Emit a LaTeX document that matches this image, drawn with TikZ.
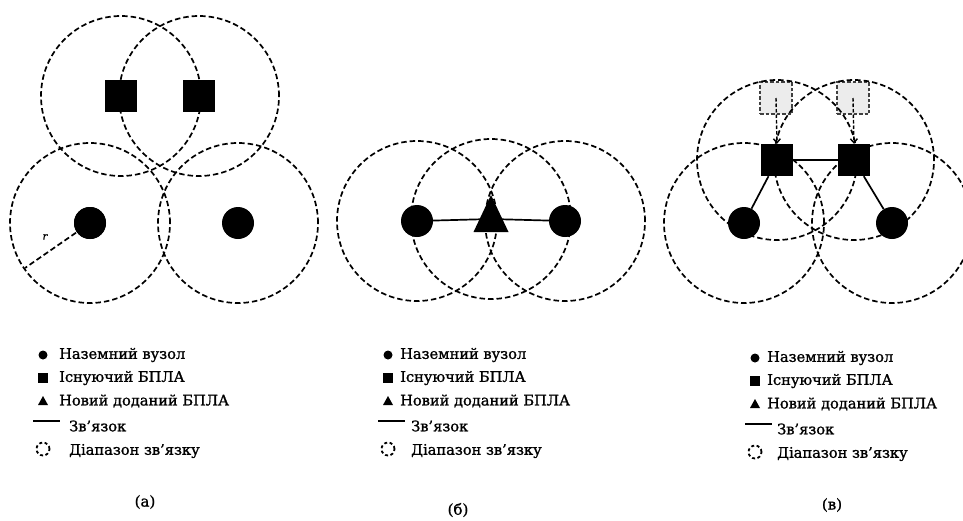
\documentclass[tikz,border=0pt]{standalone}
\usepackage{fontspec}
\setmainfont{DejaVu Serif}[FakeBold=1.2]
\usetikzlibrary{arrows.meta}
\begin{document}
\begin{tikzpicture}[x=1pt,y=-1pt,
  reach/.style={draw, dash pattern=on 5.5pt off 3pt, line width=1.7pt},
  ground/.style={circle, fill=black, minimum size=32pt, inner sep=0pt},
  uav/.style={rectangle, fill=black, minimum size=32pt, inner sep=0pt},
  ghost/.style={rectangle, fill=gray!15, draw=gray!50!black, dash pattern=on 3.5pt off 2pt, line width=1.3pt, minimum size=32pt, inner sep=0pt},
  link/.style={draw, line width=1.7pt},
  move/.style={draw, dash pattern=on 3.5pt off 2pt, line width=1.4pt, -{Straight Barb[length=4pt,width=7pt]}},
  legdot/.style={circle, fill=black, minimum size=9pt, inner sep=0pt},
  legsq/.style={rectangle, fill=black, minimum size=9.5pt, inner sep=0pt},
  legreach/.style={draw, dash pattern=on 3pt off 2.5pt, line width=1.8pt},
  legtext/.style={anchor=west, inner sep=0pt, font=\fontsize{14.6}{16}\selectfont},
  caption/.style={inner sep=0pt, font=\fontsize{15}{17}\selectfont}]
\useasboundingbox (0,0) rectangle (963,520);

% ---------- (а) ----------
\node[uav] (a1) at (121,96) {};
\node[uav] (a2) at (199,96) {};
\node[ground] (ag1) at (90,223) {};
\node[ground] (ag2) at (238,223) {};
\foreach \n in {a1,a2,ag1,ag2} \draw[reach] (\n.center) circle[radius=80pt];
\coordinate (arim) at (25,268);
\draw[reach] (ag1.center) -- (arim);
\node[inner sep=0pt, font=\fontsize{10}{12}\selectfont\itshape] (rlab) at (45,237) {r};
\node[uav] at (a1) {};
\node[uav] at (a2) {};
\node[ground] at (ag1) {};

% ---------- (б) ----------
\node[ground] (bg1) at (417,221) {};
\node[ground] (bg2) at (565,221) {};
\coordinate (bt) at (491,219);
\foreach \n in {bg1,bt,bg2} \draw[reach] (\n) circle[radius=80pt];
\draw[link] (bg1) -- (bt) -- (bg2);
\fill (491,195) -- (508.5,232) -- (473.5,232) -- cycle;

% ---------- (в) ----------
\node[ghost] (cg1) at (776,98) {};
\node[ghost] (cg2) at (853,98) {};
\node[uav] (cu1) at (777,160) {};
\node[uav] (cu2) at (854,160) {};
\node[ground] (cd1) at (744,223) {};
\node[ground] (cd2) at (892,223) {};
\foreach \n in {cu1,cu2,cd1,cd2} \draw[reach] (\n.center) circle[radius=80pt];
\draw[link] (cu1) -- (cu2);
\draw[link] (cu1) -- (cd1);
\draw[link] (cu2) -- (cd2);
\draw[move] (cg1.center) -- (cu1.north);
\draw[move] (cg2.center) -- (cu2.north);

% ---------- legends ----------
\foreach \x/\tx/\lx/\dy/\cx/\cy/\cl in {43/59/69/0/145/502/(а), 388/400/411/0/458/510/(б), 755/767/777/3/832/505/(в)}{
  \node[legdot] (ld\x) at (\x,355+\dy) {};
  \node[legtext] at (\tx,355+\dy) {Наземний вузол};
  \node[legsq] (ls\x) at (\x,378+\dy) {};
  \node[legtext] at (\tx,378+\dy) {Існуючий БПЛА};
  \fill (\x,396+\dy) -- (\x+5,405+\dy) -- (\x-5,405+\dy) -- cycle;
  \node[legtext] at (\tx,401+\dy) {Новий доданий БПЛА};
  \draw[line width=1.6pt] (\x-10,421+\dy) -- (\x+17,421+\dy);
  \node[legtext] at (\lx,426+\dy) {Зв’язок};
  \draw[legreach] (\x,449+\dy) circle[radius=6.5pt];
  \node[legtext] at (\lx,451+\dy) {Діапазон зв’язку};
  \node[caption] at (\cx,\cy) {\cl};
}
\end{tikzpicture}
\end{document}
